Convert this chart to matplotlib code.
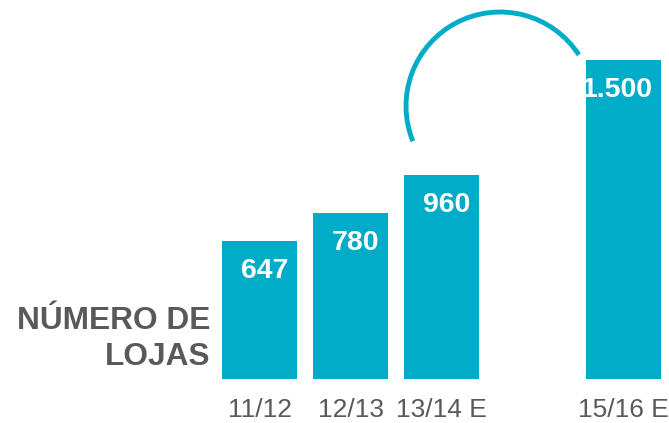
import matplotlib
matplotlib.use('Agg')
import matplotlib.pyplot as plt
from matplotlib.patches import Arc

periods = ['11/12', '12/13', '13/14 E', '15/16 E']
slots = [0, 1, 2, 4]
stores = [647, 780, 960, 1500]
value_labels = ['647', '780', '960', '1.500']

blue = '#00ACC8'
grey = '#595959'

plt.rcParams['font.family'] = ['Liberation Sans', 'DejaVu Sans']

fig = plt.figure(figsize=(6.69, 4.23), dpi=100)
# axes: bar bottom at 44 px from bottom, tallest bar top at 60 px from top
ax = fig.add_axes([0, 44/423, 1, (423-44-60)/423])
ax.bar(slots, stores, width=75/91, color=blue)
ax.set_xlim(-259.5/91, (669-259.5)/91)
ax.set_ylim(0, 1500)
for s in ax.spines.values():
    s.set_visible(False)
ax.set_yticks([])
ax.set_xticks(slots, periods)
ax.tick_params(axis='x', length=0, pad=14, labelsize=19, labelcolor=grey)

for x, v, lab in zip(slots, stores, value_labels):
    ax.annotate(lab, (x + 37.5/91, v), xytext=(-6, -12), textcoords='offset points',
                ha='right', va='top', color='white', fontsize=20.5, fontweight='bold')

fig.text(210/669, 1 - 365/423, 'NÚMERO DE\nLOJAS', ha='right', va='baseline',
         fontsize=22.8, fontweight='bold', color=grey, linespacing=1.27)

# growth arc drawn in inches so it stays circular
arc = Arc((5.00, 4.23 - 1.06), 1.88, 1.88, theta1=33, theta2=202,
          transform=fig.dpi_scale_trans, color=blue, lw=3.5, clip_on=False)
fig.add_artist(arc)

fig.savefig('out.png', dpi=100)
